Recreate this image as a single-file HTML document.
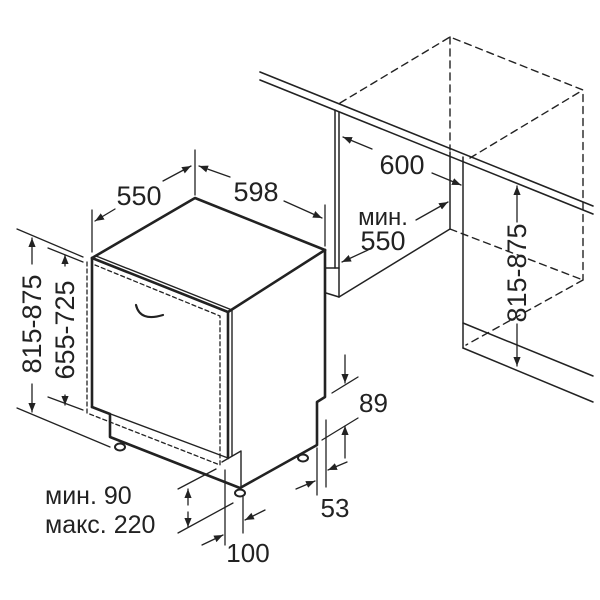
<!DOCTYPE html>
<html><head><meta charset="utf-8"><style>
html,body{margin:0;padding:0;background:#fff}
svg{display:block}
text{font-family:"Liberation Sans","DejaVu Sans",sans-serif;fill:#222}
</style></head><body>
<svg width="600" height="600" viewBox="0 0 600 600" xmlns="http://www.w3.org/2000/svg">
<defs>
<marker id="a" viewBox="0 0 10 10" refX="10" refY="5" markerWidth="9" markerHeight="9" orient="auto-start-reverse" markerUnits="userSpaceOnUse"><path d="M0,1 L10,5 L0,9 Z" fill="#222"/></marker>
</defs>
<g stroke="#222" fill="none" stroke-linecap="round" stroke-linejoin="round">
<line x1="260" y1="72" x2="593" y2="206" stroke-width="1.6"/>
<line x1="260" y1="80" x2="593" y2="214" stroke-width="1.6"/>
<g stroke-dasharray="7,5" stroke-width="1.4">
<polyline points="340,103 450,37 583,90 583,280"/>
<line x1="450" y1="37" x2="450" y2="150"/>
<line x1="470" y1="158" x2="583" y2="90"/>
<line x1="450" y1="229" x2="583" y2="280"/>
<line x1="583" y1="280" x2="466" y2="345"/>
</g>
<g stroke-width="1.5">
<line x1="335" y1="110" x2="335" y2="268"/>
<line x1="339" y1="112" x2="339" y2="297"/>
<line x1="325" y1="268" x2="339" y2="268"/>
<line x1="339" y1="297" x2="450" y2="229"/>
<line x1="326" y1="293" x2="339" y2="297"/>
<line x1="450" y1="152" x2="450" y2="229"/>
<line x1="463" y1="157" x2="463" y2="348"/>
<line x1="463" y1="323" x2="593" y2="376"/>
<line x1="463" y1="348" x2="593" y2="402"/>
</g>
<g stroke-width="2.6">
<polyline points="92,258 195,198 325,250"/>
<polyline points="92,258 228,312 325,250"/>
<line x1="92" y1="258" x2="92" y2="407"/>
<polyline points="92,407 110,414 110,437 240,488 317,445 317,402 325,397 325,250"/>
<line x1="228" y1="312" x2="228" y2="458"/>
</g>
<g stroke-width="1.4">
<line x1="232" y1="310" x2="232" y2="456"/>
<line x1="96" y1="256" x2="232" y2="310"/>
<line x1="92" y1="407" x2="228" y2="458"/>
<polyline points="222,462 241,451 241,487"/>
</g>
<g stroke-dasharray="4,3" stroke-width="1.3">
<polyline points="87,262 87,413 220,465 220,316 95,265"/>
</g>
<path d="M136,305 Q140,322 163,315" stroke-width="2.2"/>
<g stroke-width="2" fill="#fff">
<ellipse cx="120" cy="447" rx="5" ry="3.5"/>
<ellipse cx="240" cy="493" rx="5" ry="3.5"/>
<ellipse cx="303" cy="458" rx="5" ry="3.5"/>
</g>
<g stroke-width="1.3">
<line x1="92" y1="252" x2="92" y2="210"/>
<line x1="195" y1="195" x2="195" y2="150"/>
<line x1="325" y1="246" x2="325" y2="205"/>
<line x1="163" y1="181" x2="191" y2="166" marker-end="url(#a)"/>
<line x1="115" y1="209" x2="95" y2="221" marker-end="url(#a)"/>
<line x1="230" y1="177" x2="199" y2="166" marker-end="url(#a)"/>
<line x1="284" y1="201" x2="322" y2="218" marker-end="url(#a)"/>
<line x1="17" y1="229" x2="83" y2="257"/>
<line x1="17" y1="408" x2="110" y2="447"/>
<line x1="48" y1="248" x2="83" y2="262"/>
<line x1="48" y1="397" x2="83" y2="410"/>
<line x1="32" y1="264" x2="32" y2="238" marker-end="url(#a)"/>
<line x1="32" y1="384" x2="32" y2="412" marker-end="url(#a)"/>
<line x1="65" y1="266" x2="65" y2="255" marker-end="url(#a)"/>
<line x1="65" y1="395" x2="65" y2="405" marker-end="url(#a)"/>
<line x1="372" y1="149" x2="343" y2="137" marker-end="url(#a)"/>
<line x1="432" y1="173" x2="461" y2="185" marker-end="url(#a)"/>
<line x1="416" y1="220" x2="448" y2="202" marker-end="url(#a)"/>
<line x1="368" y1="250" x2="342" y2="262" marker-end="url(#a)"/>
<line x1="517" y1="222" x2="517" y2="186" marker-end="url(#a)"/>
<line x1="517" y1="324" x2="517" y2="366" marker-end="url(#a)"/>
<line x1="332" y1="393" x2="358" y2="377"/>
<line x1="322" y1="440" x2="358" y2="418"/>
<line x1="345" y1="355" x2="345" y2="383" marker-end="url(#a)"/>
<line x1="345" y1="458" x2="345" y2="426" marker-end="url(#a)"/>
<line x1="317" y1="448" x2="317" y2="495"/>
<line x1="326" y1="420" x2="326" y2="487"/>
<line x1="296" y1="489" x2="315" y2="481" marker-end="url(#a)"/>
<line x1="347" y1="462" x2="328" y2="470" marker-end="url(#a)"/>
<line x1="178" y1="489" x2="216" y2="469"/>
<line x1="178" y1="533" x2="233" y2="503"/>
<line x1="188" y1="505" x2="188" y2="489" marker-end="url(#a)"/>
<line x1="188" y1="512" x2="188" y2="527" marker-end="url(#a)"/>
<line x1="225" y1="470" x2="225" y2="545"/>
<line x1="243" y1="497" x2="243" y2="533"/>
<line x1="202" y1="545" x2="223" y2="535" marker-end="url(#a)"/>
<line x1="265" y1="510" x2="245" y2="520" marker-end="url(#a)"/>
</g>
</g>
<g font-size="27">
<text x="139" y="205" text-anchor="middle">550</text>
<text x="256" y="201" text-anchor="middle">598</text>
<text x="402" y="174" text-anchor="middle">600</text>
<text x="383" y="225" text-anchor="middle" font-size="24">мин.</text>
<text x="383" y="250" text-anchor="middle">550</text>
<text x="359" y="412" font-size="26">89</text>
<text x="335" y="517" text-anchor="middle" font-size="26">53</text>
<text x="248" y="562" text-anchor="middle" font-size="26">100</text>
<text x="45" y="504" font-size="25">мин. 90</text>
<text x="45" y="533" font-size="25">макс. 220</text>
<text transform="translate(41,324) rotate(-90)" text-anchor="middle">815-875</text>
<text transform="translate(74,330) rotate(-90)" text-anchor="middle">655-725</text>
<text transform="translate(526,273) rotate(-90)" text-anchor="middle">815-875</text>
</g>
</svg>
</body></html>
